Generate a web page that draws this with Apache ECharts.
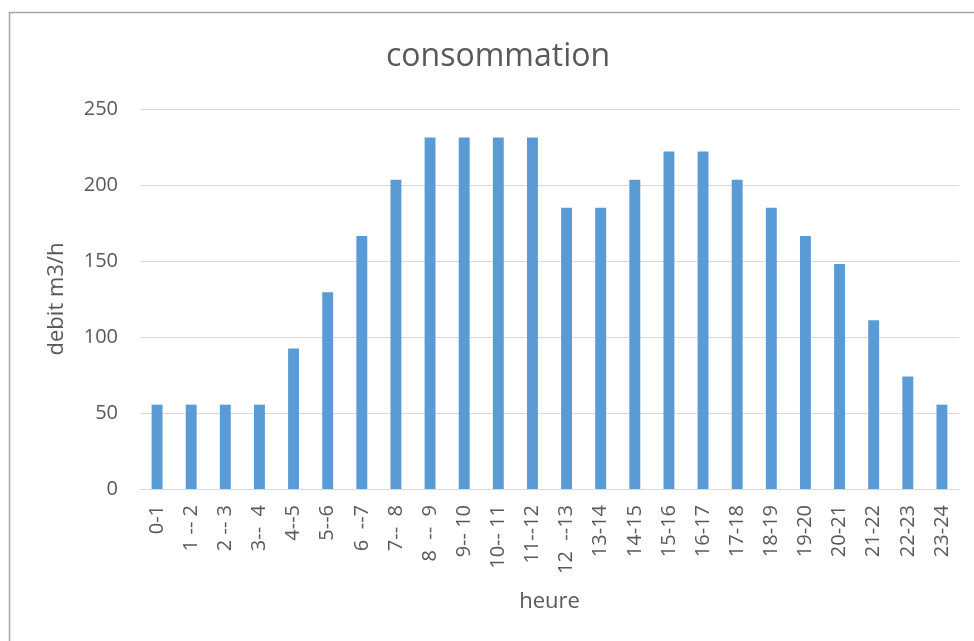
<!DOCTYPE html>
<html>
<head>
<meta charset="utf-8">
<script src="https://cdn.jsdelivr.net/npm/echarts@6/dist/echarts.min.js"></script>
<style>html,body{margin:0;padding:0;background:#fff;}#c{width:974px;height:641px;}</style>
</head>
<body>
<div id="c"></div>
<script>
const categories = ["0-1","1 -- 2","2 -- 3","3--  4","4--5","5--6","6  --7","7--  8","8  --  9","9-- 10","10-- 11","11--12","12  --13","13-14","14-15","15-16","16-17","17-18","18-19","19-20","20-21","21-22","22-23","23-24"];
const values = [55.5,55.5,55.5,55.5,92.5,129.5,166.5,203.5,231.25,231.25,231.25,231.25,185,185,203.5,222,222,203.5,185,166.5,148,111,74,55.5];
const yTicks = [0,50,100,150,200,250];
const titleText = "consommation";
const xName = "heure";
const yName = "debit m3/h";

const chart = echarts.init(document.getElementById('c'), null, {renderer:'canvas'});
const font = "'Open Sans', 'Liberation Sans', sans-serif";
chart.setOption({
  animation: false,
  backgroundColor: '#fff',
  graphic: [{
    type: 'rect', left: 7, top: 10, z: -1,
    shape: {x: 0, y: 0, width: 1000, height: 700},
    style: {fill: 'none', stroke: '#a6a6a6', lineWidth: 1.5}
  }],
  title: {
    text: titleText, left: 381, top: 36,
    textStyle: {fontFamily: font, fontSize: 32, fontWeight: 'normal', color: '#595959'}
  },
  grid: {left: 140, right: 15, top: 109, bottom: 152, containLabel: false},
  xAxis: {
    type: 'category', data: categories,
    name: xName, nameLocation: 'middle', nameGap: 102,
    nameTextStyle: {fontFamily: font, fontSize: 22, color: '#595959'},
    axisLine: {lineStyle: {color: '#d9d9d9', width: 1}},
    axisTick: {show: false},
    axisLabel: {rotate: 90, interval: 0, margin: 16, fontFamily: font, fontSize: 20, color: '#595959'}
  },
  yAxis: {
    type: 'value', min: 0, max: 250, interval: 50,
    name: yName, nameLocation: 'middle', nameGap: 72,
    nameTextStyle: {fontFamily: font, fontSize: 22, color: '#595959'},
    axisLine: {show: false}, axisTick: {show: false},
    axisLabel: {margin: 22, fontFamily: font, fontSize: 20, color: '#595959',
      formatter: v => yTicks.includes(v) ? String(v) : ''},
    splitLine: {lineStyle: {color: '#d9d9d9', width: 1}}
  },
  series: [{
    type: 'bar', data: values, barWidth: '32%',
    itemStyle: {color: '#5b9bd5'}
  }]
});
</script>
</body>
</html>
